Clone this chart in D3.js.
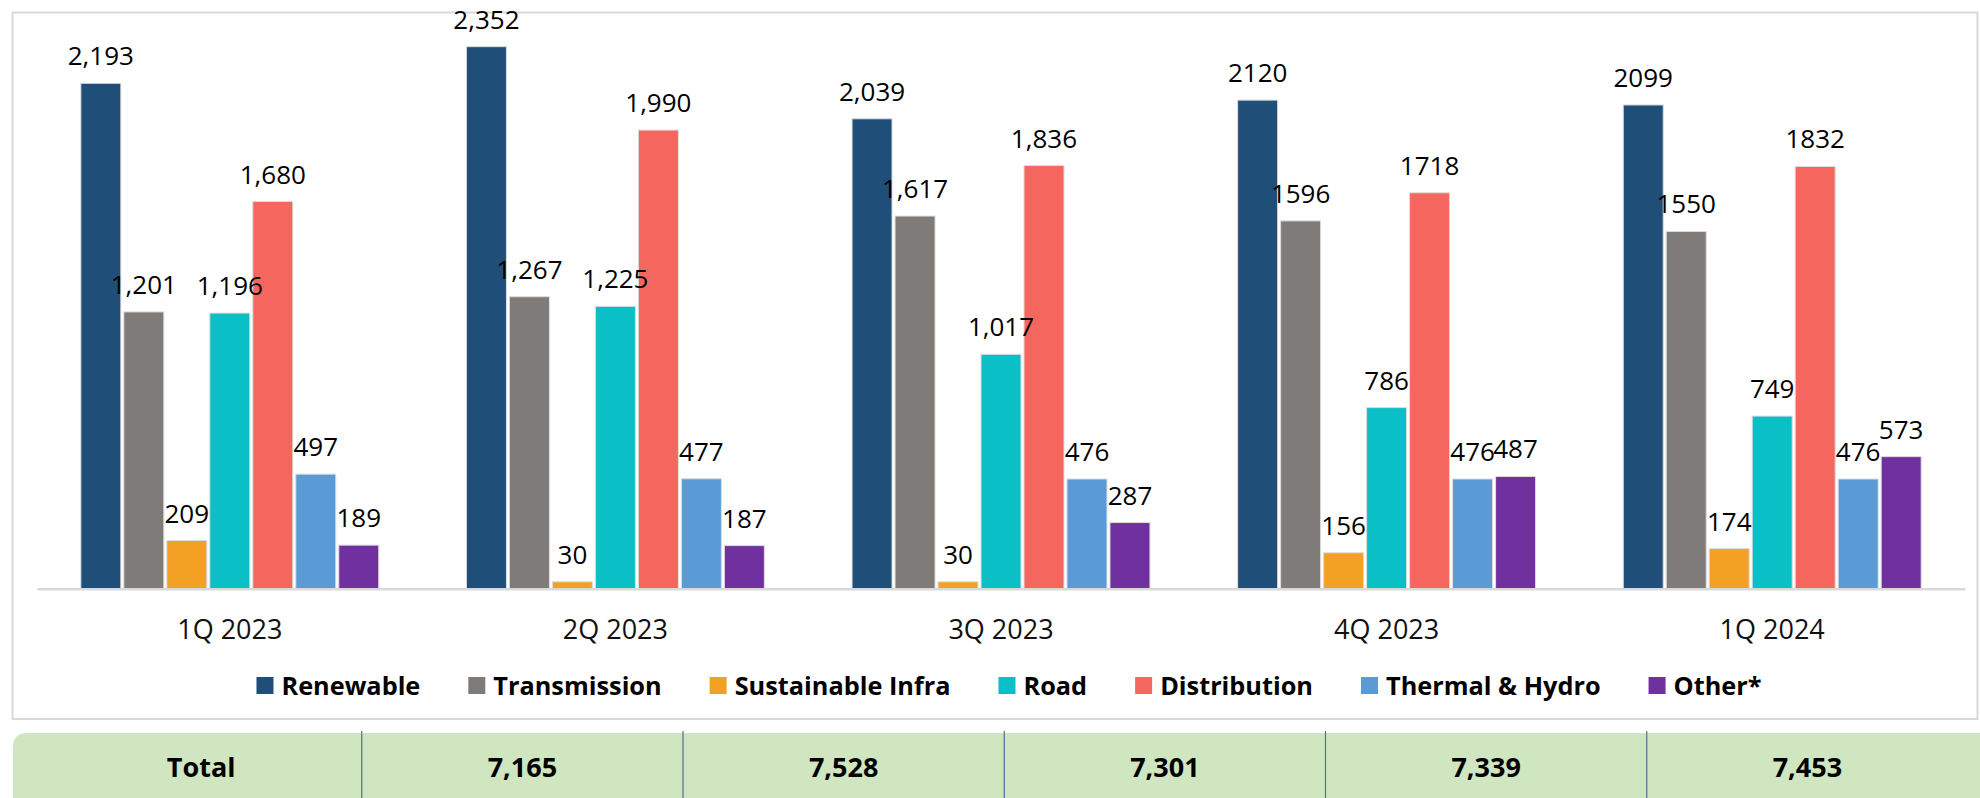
<!DOCTYPE html>
<html>
<head>
<meta charset="utf-8">
<script src="https://cdn.jsdelivr.net/npm/d3@7"></script>
<style>
  html, body { margin: 0; padding: 0; background: #ffffff; }
  svg { display: block; }
  text { font-family: "Open Sans", "Noto Sans", sans-serif; }
</style>
</head>
<body>
<svg id="chart" width="1980" height="798"></svg>
<script>
// Quarterly figures by segment
const quarters = ["1Q 2023", "2Q 2023", "3Q 2023", "4Q 2023", "1Q 2024"];
const segments = ["Renewable", "Transmission", "Sustainable Infra", "Road", "Distribution", "Thermal & Hydro", "Other*"];
const segmentColors = ["#1f4e79", "#7f7b79", "#f2a124", "#0abfc6", "#f5665f", "#5b9bd5", "#7030a0"];

const renewable    = [2193, 2352, 2039, 2120, 2099];
const transmission = [1201, 1267, 1617, 1596, 1550];
const sustainable  = [209, 30, 30, 156, 174];
const road         = [1196, 1225, 1017, 786, 749];
const distribution = [1680, 1990, 1836, 1718, 1832];
const thermalHydro = [497, 477, 476, 476, 476];
const other        = [189, 187, 287, 487, 573];

// label style per quarter: thousands separator or plain digits
const labelStyle = ["comma", "comma", "comma", "plain", "plain"];

const totalLabel = "Total";
const totals = ["7,165", "7,528", "7,301", "7,339", "7,453"];

const seriesValues = [renewable, transmission, sustainable, road, distribution, thermalHydro, other];

const svg = d3.select("#chart");

// outer frame of the chart
svg.append("rect")
  .attr("x", 12.5).attr("y", 12.5)
  .attr("width", 1965).attr("height", 706.5)
  .attr("fill", "#ffffff")
  .attr("stroke", "#d9d9d9")
  .attr("stroke-width", 2);

const x0 = d3.scaleBand().domain(quarters).range([37, 1965]).padding(0);
const x1 = d3.scaleBand().domain(segments).range([0, x0.bandwidth()])
  .paddingInner(0.07).paddingOuter(1.02);
const y = d3.scaleLinear().domain([0, 2500]).range([588.7, 12.55]);

const colorOf = d3.scaleOrdinal().domain(segments).range(segmentColors);

const fmtComma = d3.format(",");
const fmtPlain = d3.format("d");

const rows = [];
quarters.forEach((q, qi) => {
  segments.forEach((s, si) => {
    rows.push({ quarter: q, qi, segment: s, value: seriesValues[si][qi] });
  });
});

const groups = svg.append("g").selectAll("g")
  .data(quarters)
  .join("g")
  .attr("transform", d => `translate(${x0(d)},0)`);

groups.selectAll("rect")
  .data(q => rows.filter(r => r.quarter === q))
  .join("rect")
  .attr("x", d => x1(d.segment))
  .attr("y", d => y(d.value))
  .attr("width", x1.bandwidth())
  .attr("height", d => y(0) - y(d.value))
  .attr("fill", d => colorOf(d.segment))
  .attr("stroke", "#dcdcdc")
  .attr("stroke-width", 1);

groups.selectAll("text.val")
  .data(q => rows.filter(r => r.quarter === q))
  .join("text")
  .attr("class", "val")
  .attr("x", d => x1(d.segment) + x1.bandwidth() / 2)
  .attr("y", d => y(d.value) - 18)
  .attr("text-anchor", "middle")
  .attr("font-size", 26)
  .attr("fill", "#000000")
  .text(d => labelStyle[d.qi] === "comma" ? fmtComma(d.value) : fmtPlain(d.value));

// category axis along the baseline
const xAxis = d3.axisBottom(x0).tickSize(0).tickPadding(0);
const axisG = svg.append("g")
  .attr("transform", `translate(0,${y(0)})`)
  .call(xAxis);
axisG.select(".domain").attr("stroke", "#d9d9d9").attr("stroke-width", 2.5);
axisG.selectAll("text")
  .attr("font-family", "'Open Sans', sans-serif")
  .attr("font-size", 27)
  .attr("fill", "#111111")
  .attr("dy", null)
  .attr("y", 50);

// legend, laid out left to right and centred
const legend = svg.append("g");
const items = legend.selectAll("g").data(segments).join("g");
items.append("rect")
  .attr("y", 677).attr("width", 17).attr("height", 17)
  .attr("fill", d => colorOf(d));
items.append("text")
  .attr("x", 25).attr("y", 695)
  .attr("font-size", 25.3).attr("font-weight", "bold")
  .attr("fill", "#000000")
  .text(d => d);
let cursor = 0;
items.each(function () {
  const g = d3.select(this);
  g.attr("transform", `translate(${cursor},0)`);
  const w = g.select("text").node().getComputedTextLength();
  cursor += 25 + w + 48;
});
const legendWidth = cursor - 48;
legend.attr("transform", `translate(${1009 - legendWidth / 2},0)`);

// totals strip
const tableTop = 733;
svg.append("path")
  .attr("d", `M13,798 L13,${tableTop + 14} Q13,${tableTop} 27,${tableTop} L1980,${tableTop} L1980,798 Z`)
  .attr("fill", "#cfe6c1");

const cols = [totalLabel].concat(quarters);
const xt = d3.scaleBand().domain(cols).range([40.5, 1968]);
const cellText = [totalLabel].concat(totals);

svg.append("g").selectAll("line")
  .data(cols.slice(1))
  .join("line")
  .attr("x1", d => xt(d)).attr("x2", d => xt(d))
  .attr("y1", tableTop - 2).attr("y2", 798)
  .attr("stroke", "#4f6e91").attr("stroke-width", 1.2);

svg.append("g").selectAll("text")
  .data(cols)
  .join("text")
  .attr("x", d => xt(d) + xt.bandwidth() / 2)
  .attr("y", 777)
  .attr("text-anchor", "middle")
  .attr("font-size", 27)
  .attr("font-weight", "bold")
  .attr("fill", "#000000")
  .text((d, i) => cellText[i]);
</script>
</body>
</html>
